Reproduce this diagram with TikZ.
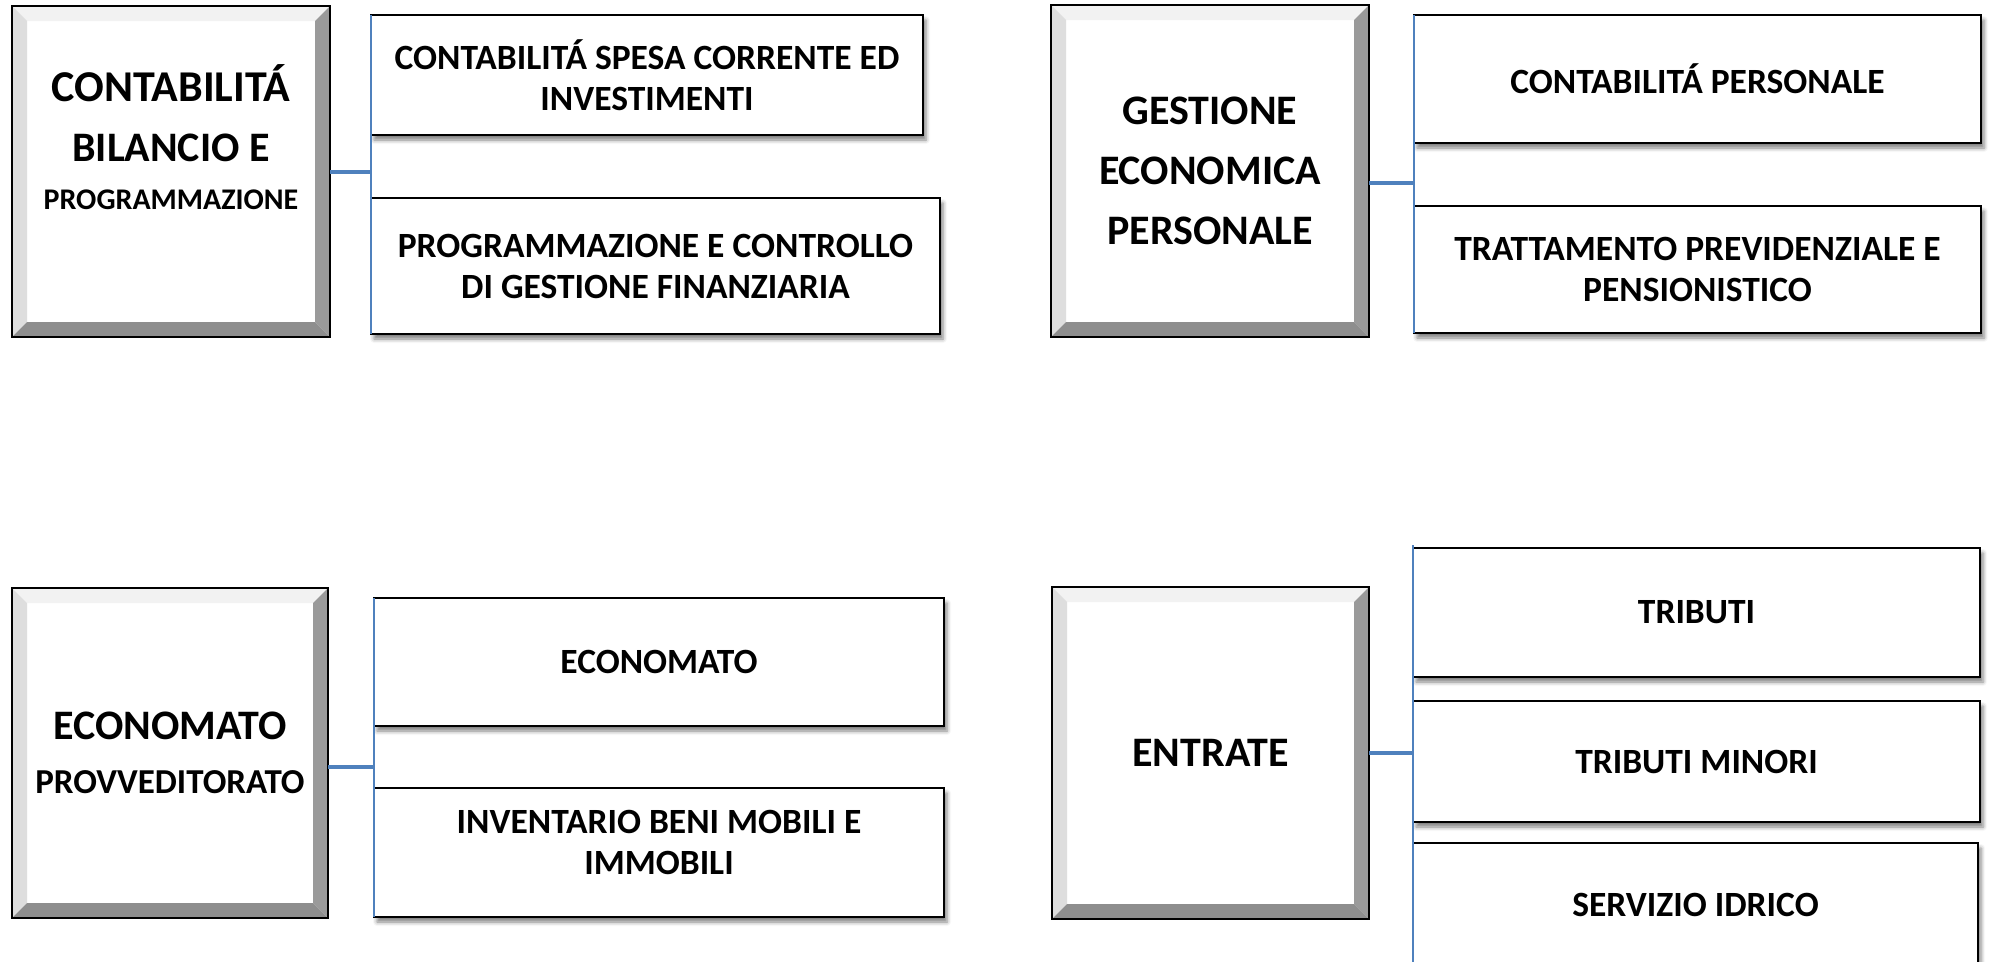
\documentclass[tikz,border=0pt]{standalone}
\usepackage{fontspec}
\setmainfont{Carlito}
\usetikzlibrary{shadows.blur,calc}
\definecolor{conn}{HTML}{4F81BD}
\definecolor{bevtopc}{HTML}{F2F2F2}
\definecolor{bevleftc}{HTML}{DEDEDE}
\definecolor{bevrightc}{HTML}{9A9A9A}
\definecolor{bevbotc}{HTML}{8E8E8E}
\newcommand\mybevel[1]{%
  \fill[bevtopc] (#1.north west) -- (#1.north east) -- ([shift={(-15,15)}]#1.north east) -- ([shift={(15,15)}]#1.north west) -- cycle;
  \fill[bevleftc] (#1.north west) -- ([shift={(15,15)}]#1.north west) -- ([shift={(15,-15)}]#1.south west) -- (#1.south west) -- cycle;
  \fill[bevrightc] (#1.north east) -- ([shift={(-15,15)}]#1.north east) -- ([shift={(-15,-15)}]#1.south east) -- (#1.south east) -- cycle;
  \fill[bevbotc] (#1.south west) -- ([shift={(15,-15)}]#1.south west) -- ([shift={(-15,-15)}]#1.south east) -- (#1.south east) -- cycle;
  \draw[line width=2.5pt] (#1.north west) rectangle (#1.south east);
}
\begin{document}
\begin{tikzpicture}[x=1pt,y=-1pt,
  childbox/.style={draw=black, line width=2pt, fill=white, outer sep=0pt, inner sep=0pt,
    align=center, font=\bfseries\fontsize{35.5}{41}\selectfont,
    blur shadow={shadow xshift=3pt, shadow yshift=-5pt, shadow blur radius=4pt, shadow opacity=50}},
  mainbox/.style={draw=black, line width=2.5pt, fill=white, outer sep=0pt, inner sep=0pt,
    align=center, font=\bfseries\fontsize{42}{60}\selectfont},
  link/.style={conn, line width=4pt},
  spine/.style={conn, line width=2pt}]
\useasboundingbox (0,0) rectangle (1993,961);
\clip (0,0) rectangle (1993,961);

% ---------- top left ----------
\node[mainbox, minimum width=318, minimum height=331] (m1) at (171,171.5) {};
\node[childbox, minimum width=552, minimum height=120] (c11) at (647,75)
  {CONTABILITÁ SPESA CORRENTE ED\\INVESTIMENTI};
\node[childbox, minimum width=569, minimum height=136] (c12) at (655.5,266)
  {PROGRAMMAZIONE E CONTROLLO\\DI GESTIONE FINANZIARIA};

% ---------- top right ----------
\node[mainbox, minimum width=318, minimum height=332] (m2) at (1210,171) {};
\node[childbox, minimum width=567, minimum height=128] (c21) at (1697.5,79)
  {CONTABILITÁ PERSONALE};
\node[childbox, minimum width=567, minimum height=127] (c22) at (1697.5,269.5)
  {TRATTAMENTO PREVIDENZIALE E\\PENSIONISTICO};

% ---------- bottom left ----------
\node[mainbox, minimum width=316, minimum height=330] (m3) at (170,753) {};
\node[childbox, minimum width=570, minimum height=128] (c31) at (659,662)
  {ECONOMATO};
\node[childbox, minimum width=570, minimum height=129] (c32) at (659,852.5)
  {INVENTARIO BENI MOBILI E\\IMMOBILI\rule[-20pt]{0pt}{20pt}};

% ---------- bottom right ----------
\node[mainbox, minimum width=317, minimum height=332] (m4) at (1210.5,753) {};
\node[childbox, minimum width=567, minimum height=129] (c41) at (1696.5,612.5)
  {TRIBUTI};
\node[childbox, minimum width=567, minimum height=121] (c42) at (1696.5,761.5)
  {TRIBUTI MINORI};
\node[childbox, minimum width=565, minimum height=123] (c43) at (1695.5,904.5)
  {SERVIZIO IDRICO};

% bevels of the main boxes, then their texts
\mybevel{m1}\mybevel{m2}\mybevel{m3}\mybevel{m4}
\node[mainbox, draw=none, fill=none] (t1) at (m1.center)
  {{\fontsize{44}{60}\selectfont CONTABILITÁ}\\BILANCIO E\\[-12pt]{\fontsize{30}{48}\selectfont PROGRAMMAZIONE}\rule[-69pt]{0pt}{69pt}};
\node[mainbox, draw=none, fill=none] (t2) at (m2.center) {GESTIONE\\ECONOMICA\\PERSONALE};
\node[mainbox, draw=none, fill=none] (t3) at (m3.center) {ECONOMATO\\[-6pt]{\fontsize{35}{48}\selectfont PROVVEDITORATO}};
\node[mainbox, draw=none, fill=none] (t4) at (m4.center) {ENTRATE};

% ---------- connectors ----------
\coordinate (j1) at (371,172);
\coordinate (j2) at (1414,183);
\coordinate (j3) at (374,767);
\coordinate (j4) at (1413,753);
\coordinate (s4a) at (1413,545);
\coordinate (s4b) at (1413,975);

\draw[spine] (c11.north west) -- (c12.south west);
\draw[link] (m1.east |- j1) -- (j1);
\draw[spine] (c21.north west) -- (c22.south west);
\draw[link] (m2.east |- j2) -- (j2);
\draw[spine] (c31.north west) -- (c32.south west);
\draw[link] (m3.east |- j3) -- (j3);
\draw[spine] (s4a) -- (s4b);
\draw[link] (m4.east |- j4) -- (j4);
\end{tikzpicture}
\end{document}
